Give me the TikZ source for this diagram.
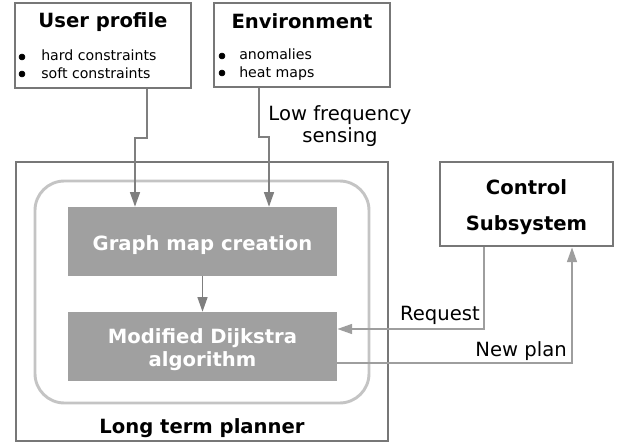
\documentclass[tikz,border=0pt]{standalone}
\usepackage{fontspec}
\setmainfont{DejaVu Sans}
\usetikzlibrary{arrows.meta}
\definecolor{framegray}{HTML}{777777}
\definecolor{taskgray}{HTML}{A0A0A0}
\definecolor{roundgray}{HTML}{C4C4C4}
\definecolor{conngray}{HTML}{7F7F7F}
\definecolor{replygray}{HTML}{9E9E9E}
\tikzset{
  frame/.style={draw=framegray, line width=2.2pt, inner sep=0pt},
  task/.style={fill=taskgray, inner sep=0pt, minimum width=202pt},
  title/.style={font=\bfseries\fontsize{14.7}{18}\selectfont, anchor=base, inner sep=0pt},
  tasktext/.style={title, text=white},
  item/.style={font=\fontsize{10.6}{13}\selectfont, anchor=base west, inner sep=0pt},
  label/.style={font=\fontsize{14.7}{18}\selectfont, anchor=base, inner sep=0pt},
  conn/.style={draw=conngray, line width=1.1pt, -{Triangle[length=11pt,width=7.5pt]}},
  reply/.style={draw=replygray, line width=1.1pt, -{Triangle[length=11pt,width=7.5pt]}}
}
\begin{document}
\begin{tikzpicture}[x=0.75pt,y=-0.75pt]
\useasboundingbox (0,0) rectangle (624,445);
% top boxes
\node [frame, minimum width=132pt, minimum height=63.75pt] (user) at (103,45.5) {};
\node [title] at (103,28) {User profile};
\filldraw (22,57) circle (3);
\node [item] at (41,61) {hard constraints};
\filldraw (22,74) circle (3);
\node [item] at (41,79) {soft constraints};
\node [frame, minimum width=132pt, minimum height=63pt] (env) at (302,45) {};
\node [title] at (302,29) {Environment};
\filldraw (222,56) circle (3);
\node [item] at (239,60) {anomalies};
\filldraw (222,73) circle (3);
\node [item] at (239,78) {heat maps};
% planner
\node [frame, minimum width=279pt, minimum height=209.25pt] (planner) at (202,301.5) {};
\node [draw=roundgray, line width=2.2pt, rounded corners=22pt, minimum width=250.5pt, minimum height=166.5pt] (inner) at (202,292) {};
\node [task, minimum height=51.75pt] (graph) at (202.5,241.5) {};
\node [tasktext] at (202.5,250) {Graph map creation};
\node [task, minimum height=51.75pt] (dijkstra) at (202.5,346.5) {};
\node [tasktext] at (202.5,343) {Modified Dijkstra};
\node [tasktext] at (202.5,366) {algorithm};
\node [title] at (202,433) {Long term planner};
% control
\node [frame, minimum width=129.75pt, minimum height=63pt] (ctrl) at (526.5,204) {};
\node [title] at (526.5,195) {Control};
\node [title] at (526.5,231) {Subsystem};
% connectors
\coordinate (u1) at (147,138);
\coordinate (u2) at (135,138);
\draw [conn] (user.south -| u1) -- (u1) -- (u2) -- (u2 |- graph.north);
\coordinate (e1) at (259,137);
\coordinate (e2) at (269,137);
\draw [conn] (env.south -| e1) -- (e1) -- (e2) -- (e2 |- graph.north);
\node [label] at (340,121) {Low frequency};
\node [label] at (340,143) {sensing};
\draw [conn] (graph) -- (dijkstra);
\coordinate (r1) at (484,329);
\draw [reply] (ctrl.south -| r1) -- (r1) -- (r1 -| dijkstra.east);
\node [label, anchor=base east] at (480,320) {Request};
\coordinate (n1) at (572,363);
\draw [reply] (n1 -| dijkstra.east) -- (n1) -- (n1 |- ctrl.south);
\node [label, anchor=base east] at (567,356) {New plan};
\end{tikzpicture}
\end{document}
